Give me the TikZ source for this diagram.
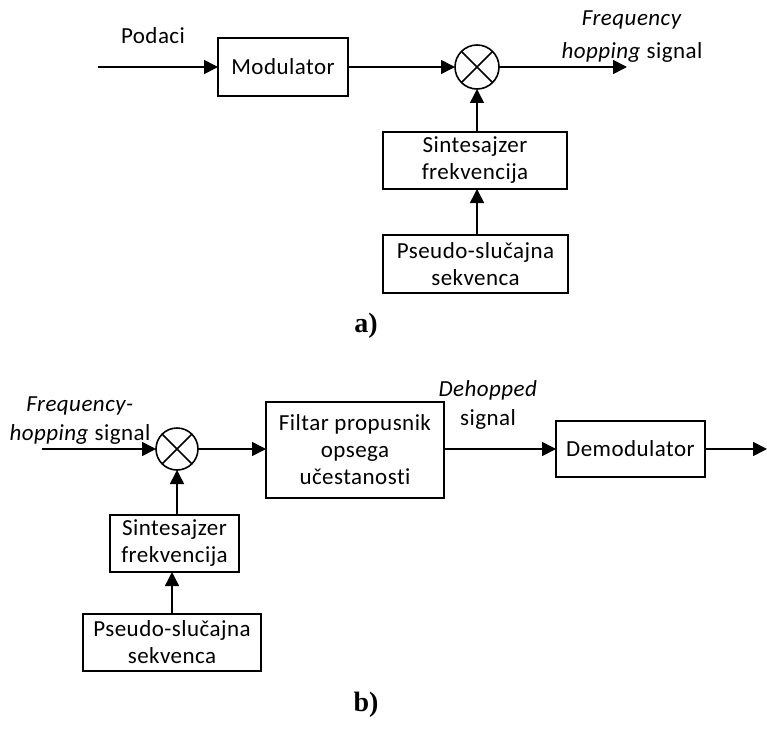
\documentclass[tikz,border=0pt]{standalone}
\usepackage{fontspec}
\setmainfont{Carlito}[LetterSpace=2,Ligatures={NoCommon}]
\newfontfamily\lblfont{Liberation Serif}
\usetikzlibrary{arrows.meta}
\begin{document}
\begin{tikzpicture}[x=1pt,y=-1pt,
  every node/.style={font=\fontsize{23}{27}\selectfont, inner sep=0pt, outer sep=0pt},
  blk/.style={draw, line width=1.6pt, align=center},
  mix/.style={draw, circle, line width=1.6pt, minimum size=44pt, outer sep=0pt},
  lbl/.style={align=center, font=\fontsize{23}{29}\selectfont},
  sub/.style={font=\lblfont\bfseries\fontsize{28}{32}\selectfont},
  conn/.style={line width=1.6pt, -{Triangle[length=14pt,width=14pt]}}
]
\useasboundingbox (0,0) rectangle (767,733);

% ---------- a) ----------
\coordinate (ina) at (98,67);
\node[blk, minimum width=130pt, minimum height=58pt] (moda) at (283,67) {Modulator};
\node[mix] (mixa) at (477,67) {};
\draw[line width=1.6pt] (mixa.north east) -- (mixa.south west) (mixa.north west) -- (mixa.south east);
\coordinate (outa) at (627,67);
\node[blk, minimum width=184pt, minimum height=57pt] (sinta) at (475,160.5) {Sintesajzer\\frekvencija};
\node[blk, minimum width=185pt, minimum height=58pt] (psa) at (475.5,264) {Pseudo-slučajna\\sekvenca};
\node (podaci) at (153,36) {Podaci};
\node[lbl, font=\fontsize{23}{33}\selectfont] (fha) at (632,37) {\textit{Frequency}\\\textit{hopping} signal};
\node[sub] (la) at (366,326) {a)};

\draw[conn] (ina) -- (moda.west);
\draw[conn] (moda.east) -- (mixa.west);
\draw[conn] (mixa.east) -- (outa);
\draw[conn] (mixa |- sinta.north) -- (mixa.south);
\draw[conn] (mixa |- psa.north) -- (mixa |- sinta.south);

% ---------- b) ----------
\coordinate (inb) at (42,449);
\node[mix, minimum size=42pt] (mixb) at (177,449) {};
\draw[line width=1.6pt] (mixb.north east) -- (mixb.south west) (mixb.north west) -- (mixb.south east);
\node[blk, minimum width=178pt, minimum height=96pt] (filt) at (355,450) {Filtar propusnik\\opsega\\učestanosti};
\node[blk, minimum width=149pt, minimum height=56pt] (demod) at (630.5,449) {Demodulator};
\coordinate (outb) at (767,449);
\node[blk, minimum width=129pt, minimum height=57pt] (sintb) at (174.5,543.5) {Sintesajzer\\frekvencija};
\node[blk, minimum width=178pt, minimum height=57pt] (psb) at (172,642.5) {Pseudo-slučajna\\sekvenca};
\node[lbl] (fhb) at (80,421) {\textit{Frequency-}\\\textit{hopping} signal};
\node[lbl] (deh) at (488,405) {\textit{Dehopped}\\signal};
\node[sub] (lb) at (366,705) {b)};

\draw[conn] (inb) -- (mixb.west);
\draw[conn] (mixb.east) -- (filt.west |- mixb.east);
\draw[conn] (filt.east |- demod.west) -- (demod.west);
\draw[conn] (demod.east) -- (outb);
\draw[conn] (mixb |- sintb.north) -- (mixb.south);
\draw[conn] (psb.north) -- (psb.north |- sintb.south);
\end{tikzpicture}
\end{document}
